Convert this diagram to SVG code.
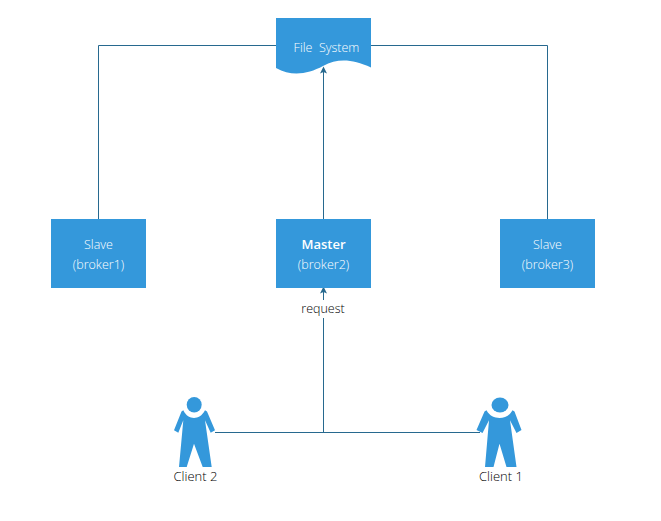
<svg xmlns="http://www.w3.org/2000/svg" width="661" height="521" viewBox="0 0 661 521">
<style>
text{font-family:"Open Sans","Noto Sans","Liberation Sans",sans-serif;font-size:12.5px;text-anchor:middle}
.w{fill:#fff;font-weight:300}
.d{fill:#000;font-weight:300}
.l{font-size:13px}
.b{fill:#3498db}
.c{fill:none;stroke:#27698f;stroke-width:1}
</style>
<defs>
<marker id="a" markerUnits="userSpaceOnUse" markerWidth="8" markerHeight="8" refX="3.5" refY="3.5" orient="auto"><path d="M0 0L7 3.500L0 7L1.500 3.500Z" fill="#27698f"/></marker>
</defs>
<rect width="661" height="521" fill="#fff"/>
<g id="connectors">
<path class="c" d="M276 45.500H98.500V219"/>
<path class="c" d="M371 45.500H547.500V219"/>
<path class="c" d="M323.500 219V70" marker-end="url(#a)"/>
<path class="c" d="M215 432.500H480"/>
<path class="c" d="M323.500 432.500V290" marker-end="url(#a)"/>
<rect x="300" y="300" width="47" height="18" fill="#fff"/>
<text class="d" x="323" y="313">request</text>
</g>
<g id="file-system">
<path class="b" d="M276 18H371V67.500C352 59 338 58 323 66C308 74 292 77 276 68Z"/>
<text class="w" x="326.500" y="52" xml:space="preserve">File  System</text>
</g>
<g id="slave1"><rect class="b" x="51" y="219" width="95" height="69"/><text class="w" x="98.500" y="249">Slave</text><text class="w" x="98.500" y="269">(broker1)</text></g>
<g id="master"><rect class="b" x="276" y="219" width="95" height="69"/><text x="323.500" y="249" fill="#fff" font-weight="600" style="font-size:13px">Master</text><text class="w" x="323.500" y="269">(broker2)</text></g>
<g id="slave3"><rect class="b" x="500" y="219" width="95" height="69"/><text class="w" x="547.500" y="249">Slave</text><text class="w" x="547.500" y="269">(broker3)</text></g>
<g id="client2"><ellipse class="b" cx="194.200" cy="404.800" rx="7.500" ry="7.800"/><path class="b" transform="translate(194 422)" d="M-10.700 -11.700C-8 -6 -4 -4 0 -4C4 -4 8 -6 11 -11.700L13 -10.500L21 8.300L16.700 10.700L11 -1.700L17.700 45L8.700 45L0 21.700L-7.300 45L-15 45L-10.700 -1.700L-15.700 10.700L-20 8.300L-12.500 -10.500Z"/><text class="d l" x="195.500" y="481">Client 2</text></g>
<g id="client1"><ellipse class="b" cx="500" cy="405" rx="8.500" ry="7.500"/><path class="b" transform="translate(499.500 422)" d="M-13 -11.700C-10 -6 -5 -4 0 -4C5 -4 10 -6 13 -11.700L15 -10.500L22 8L17 11L10.500 -1.700L17 45L7 45L0 21.700L-6 45L-14.500 45L-10.500 -1.700L-17 11L-23 8L-15 -10.500Z"/><text class="d l" x="501" y="481">Client 1</text></g>
</svg>
